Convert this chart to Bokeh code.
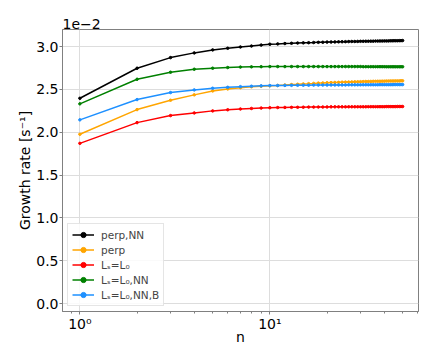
from bokeh.plotting import figure
from bokeh.models import Range1d, FixedTicker, CustomJSTickFormatter
from bokeh.embed import file_html
from bokeh.resources import INLINE

# mode number n
n = list(range(1, 51))

# growth rates in units of 1e-2 s^-1
perp_nn = [2.396, 2.747, 2.871, 2.926, 2.961, 2.980, 2.995, 3.006, 3.017, 3.027,
           3.031, 3.035, 3.038, 3.041, 3.043, 3.045, 3.047, 3.049, 3.050, 3.052,
           3.053, 3.054, 3.055, 3.056, 3.057, 3.058, 3.059, 3.059, 3.060, 3.061,
           3.061, 3.062, 3.062, 3.063, 3.063, 3.064, 3.064, 3.065, 3.065, 3.066,
           3.066, 3.066, 3.067, 3.067, 3.068, 3.068, 3.068, 3.069, 3.069, 3.070]

perp = [1.976, 2.264, 2.373, 2.436, 2.482, 2.505, 2.520, 2.530, 2.537, 2.542,
        2.546, 2.551, 2.556, 2.560, 2.564, 2.567, 2.570, 2.573, 2.575, 2.577,
        2.579, 2.581, 2.582, 2.584, 2.585, 2.586, 2.587, 2.588, 2.589, 2.590,
        2.591, 2.592, 2.592, 2.593, 2.594, 2.594, 2.595, 2.595, 2.596, 2.596,
        2.597, 2.597, 2.598, 2.598, 2.598, 2.599, 2.599, 2.599, 2.600, 2.600]

ls_l0 = [1.870, 2.112, 2.194, 2.225, 2.249, 2.262, 2.271, 2.277, 2.282, 2.286,
         2.288, 2.289, 2.290, 2.291, 2.292, 2.293, 2.293, 2.294, 2.294, 2.295,
         2.296, 2.296, 2.296, 2.296, 2.296, 2.297, 2.297, 2.297, 2.297, 2.297,
         2.297, 2.297, 2.298, 2.298, 2.298, 2.298, 2.298, 2.298, 2.298, 2.298,
         2.299, 2.299, 2.299, 2.299, 2.299, 2.299, 2.300, 2.300, 2.300, 2.300]

ls_l0_nn = [2.331, 2.618, 2.700, 2.735, 2.747, 2.755, 2.760, 2.763, 2.765, 2.766,
            2.766, 2.766, 2.766, 2.766, 2.766, 2.766, 2.766, 2.766, 2.766, 2.766,
            2.766, 2.766, 2.766, 2.766, 2.766, 2.766, 2.766, 2.766, 2.766, 2.766,
            2.765, 2.765, 2.765, 2.765, 2.765, 2.765, 2.765, 2.765, 2.765, 2.765,
            2.764, 2.764, 2.764, 2.764, 2.764, 2.764, 2.764, 2.764, 2.764, 2.764]

ls_l0_nn_b = [2.144, 2.381, 2.463, 2.494, 2.513, 2.524, 2.532, 2.537, 2.541, 2.544,
              2.545, 2.546, 2.547, 2.548, 2.549, 2.549, 2.550, 2.550, 2.551, 2.551,
              2.552, 2.552, 2.552, 2.552, 2.552, 2.553, 2.553, 2.553, 2.553, 2.553,
              2.554, 2.554, 2.554, 2.554, 2.554, 2.554, 2.554, 2.555, 2.555, 2.555,
              2.555, 2.555, 2.555, 2.555, 2.556, 2.556, 2.556, 2.556, 2.556, 2.556]

series_labels = ["perp,NN", "perp", "Lₛ=L₀", "Lₛ=L₀,NN", "Lₛ=L₀,NN,B"]
series_values = [perp_nn, perp, ls_l0, ls_l0_nn, ls_l0_nn_b]
series_colors = ["black", "#FFA500", "#FF0000", "#008000", "#1E90FF"]

y_ticks = [0.0, 0.5, 1.0, 1.5, 2.0, 2.5, 3.0]
x_ticks = [1, 10]
x_tick_labels = {1: "10⁰", 10: "10¹"}
x_minor = [0.9, 2, 3, 4, 5, 6, 7, 8, 9, 20, 30, 40, 50, 60]
offset_text = "1e−2"

FONT = "DejaVu Sans"

p = figure(width=420, height=347, x_axis_type="log",
           output_backend="svg", toolbar_location=None,
           x_range=Range1d(0.81, 60.6), y_range=Range1d(-0.093, 3.199),
           min_border_left=62, min_border_right=2,
           min_border_top=29, min_border_bottom=36)

p.background_fill_color = "white"
p.border_fill_color = "white"
p.outline_line_color = "#808080"
p.outline_line_width = 1

for lab, vals, col in zip(series_labels, series_values, series_colors):
    p.line(n, vals, line_color=col, line_width=1.5, legend_label=lab)
    p.scatter(n, vals, size=2.5, marker="circle", fill_color=col,
              line_color=col, legend_label=lab)

p.xaxis.ticker = FixedTicker(ticks=x_ticks, minor_ticks=x_minor)
p.xaxis.major_label_overrides = x_tick_labels
p.yaxis.ticker = FixedTicker(ticks=y_ticks, minor_ticks=[])
p.yaxis.formatter = CustomJSTickFormatter(code="return tick.toFixed(1);")

for ax in (p.xaxis[0], p.yaxis[0]):
    ax.axis_line_color = "#808080"
    ax.major_tick_line_color = "#808080"
    ax.minor_tick_line_color = "#808080"
    ax.major_tick_in = 0
    ax.major_tick_out = 3
    ax.minor_tick_in = 0
    ax.minor_tick_out = 2
    ax.major_label_text_font = FONT
    ax.major_label_text_font_size = "14px"
    ax.major_label_text_color = "black"
    ax.axis_label_text_font = FONT
    ax.axis_label_text_font_size = "14px"
    ax.axis_label_text_font_style = "normal"
    ax.axis_label_text_color = "black"

p.xaxis.axis_label = "n"
p.yaxis.axis_label = "Growth rate [s⁻¹]"
p.xaxis.major_label_standoff = 1
p.yaxis.major_label_standoff = 1
p.xaxis.axis_label_standoff = -6
p.yaxis.axis_label_standoff = 0

p.xgrid.ticker = FixedTicker(ticks=x_ticks)
p.grid.grid_line_color = "#dddddd"
p.grid.grid_line_width = 1

p.title.text = offset_text
p.title.align = "left"
p.title.standoff = 2
p.title.text_font = FONT
p.title.text_font_size = "14px"
p.title.text_font_style = "normal"
p.title.text_color = "black"

leg = p.legend[0]
leg.location = "bottom_left"
leg.margin = 5
leg.padding = 4
leg.spacing = 2
leg.label_text_font = FONT
leg.label_text_font_size = "10.5px"
leg.label_height = 13
leg.glyph_height = 13
leg.glyph_width = 22
leg.label_standoff = 7
leg.border_line_color = "#cccccc"
leg.background_fill_alpha = 0.85

open("out.html", "w").write(file_html(p, INLINE))
